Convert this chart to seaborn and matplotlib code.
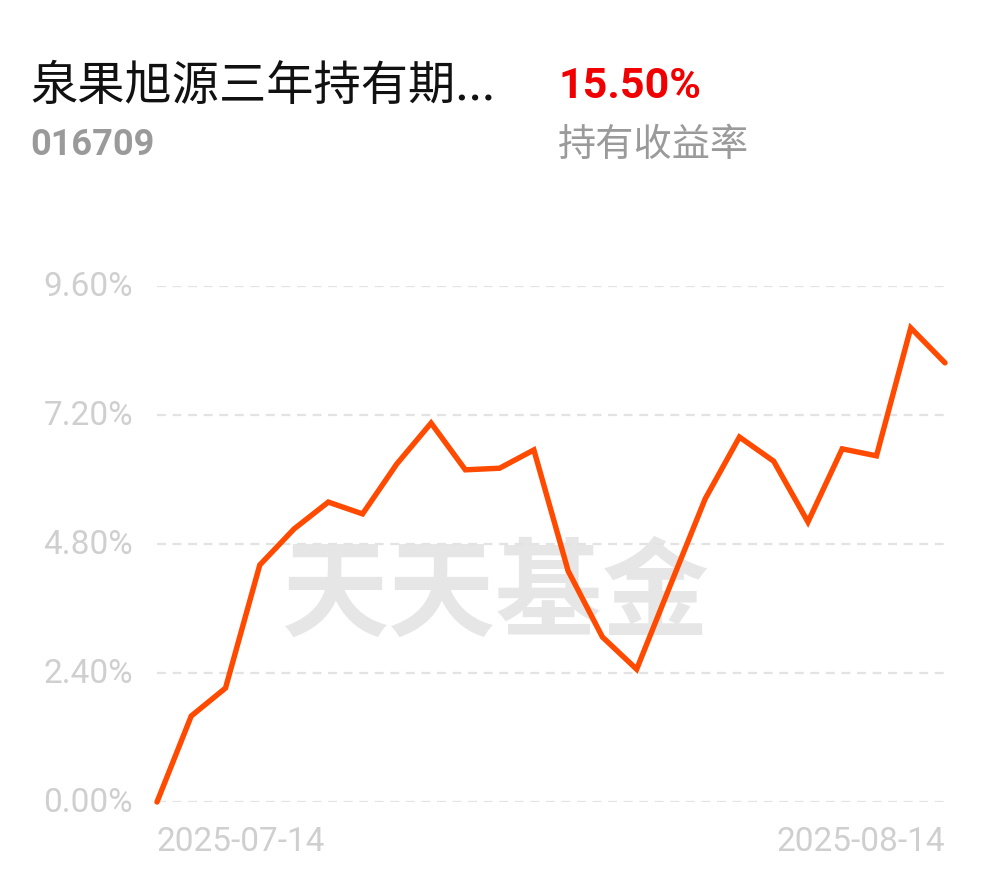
import matplotlib
matplotlib.use("Agg")
import matplotlib.pyplot as plt
import seaborn as sns
import pandas as pd

# fund info
fund_name = "泉果旭源三年持有期..."
fund_code = "016709"
hold_return = "15.50%"
hold_label = "持有收益率"

# 24 trading days, 2025-07-14 .. 2025-08-14
dates = ["2025-07-14", "2025-07-15", "2025-07-16", "2025-07-17", "2025-07-18",
         "2025-07-21", "2025-07-22", "2025-07-23", "2025-07-24", "2025-07-25",
         "2025-07-28", "2025-07-29", "2025-07-30", "2025-07-31", "2025-08-01",
         "2025-08-04", "2025-08-05", "2025-08-06", "2025-08-07", "2025-08-08",
         "2025-08-11", "2025-08-12", "2025-08-13", "2025-08-14"]
returns = [0.00, 1.60, 2.12, 4.41, 5.08, 5.58, 5.36, 6.29, 7.05, 6.18,
           6.21, 6.55, 4.30, 3.07, 2.47, 4.06, 5.64, 6.79, 6.34, 5.21,
           6.57, 6.44, 8.82, 8.17]
y_ticks = [0.0, 2.4, 4.8, 7.2, 9.6]

sns.set_style("white")
plt.rcParams['font.family'] = ['Roboto', 'Noto Sans CJK SC', 'DejaVu Sans']

df = pd.DataFrame({"idx": range(len(dates)), "date": dates, "ret": returns})

W, H = 990, 878
fig = plt.figure(figsize=(W / 100, H / 100), dpi=100)
ax = fig.add_axes([157 / W, (H - 803) / H, (945 - 157) / W, (803 - 287) / H])

# watermark
ax.text(0.43, 0.40, "天天基金", transform=ax.transAxes, ha="center", va="center",
        fontsize=77, color="#e6e6e6", fontweight="bold",
        family=["Noto Sans CJK SC"], zorder=0)

for t in y_ticks:
    ax.axhline(t, color="#e3e3e3", lw=1.6, ls=(0, (4, 3)), zorder=1)

sns.lineplot(data=df, x="idx", y="ret", ax=ax, color="#FF4A00", lw=3.9,
             zorder=3, clip_on=False, solid_joinstyle="miter")

ax.set_xlim(0, len(dates) - 1)
ax.set_ylim(0, 9.6)
ax.set_xticks([])
ax.set_yticks([])
ax.set_xlabel("")
ax.set_ylabel("")
sns.despine(ax=ax, left=True, bottom=True)

for t in y_ticks:
    ax.text(-24 / 788, t, f"{t:.2f}%", transform=ax.get_yaxis_transform(),
            ha="right", va="center", fontsize=24, color="#cfcfcf")

ax.text(0, -0.075, dates[0], transform=ax.transAxes, ha="left", va="center",
        fontsize=24, color="#cfcfcf")
ax.text(1, -0.075, dates[-1], transform=ax.transAxes, ha="right", va="center",
        fontsize=24, color="#cfcfcf")

# header
fig.text(30 / W, 1 - 87 / H, fund_name, ha="left", va="center", fontsize=34,
         color="#111111", family=["Noto Sans CJK SC", "DejaVu Sans"])
fig.text(30 / W, 1 - 145 / H, fund_code, ha="left", va="center", fontsize=26,
         color="#9a9a9a", fontweight="bold", family=["Roboto"])
fig.text(558 / W, 1 - 86 / H, hold_return, ha="left", va="center", fontsize=31,
         color="#F00000", fontweight="bold", family=["Roboto"])
fig.text(558 / W, 1 - 146 / H, hold_label, ha="left", va="center", fontsize=27.5,
         color="#9a9a9a", family=["Noto Sans CJK SC"])

fig.savefig("out.png", dpi=100)
